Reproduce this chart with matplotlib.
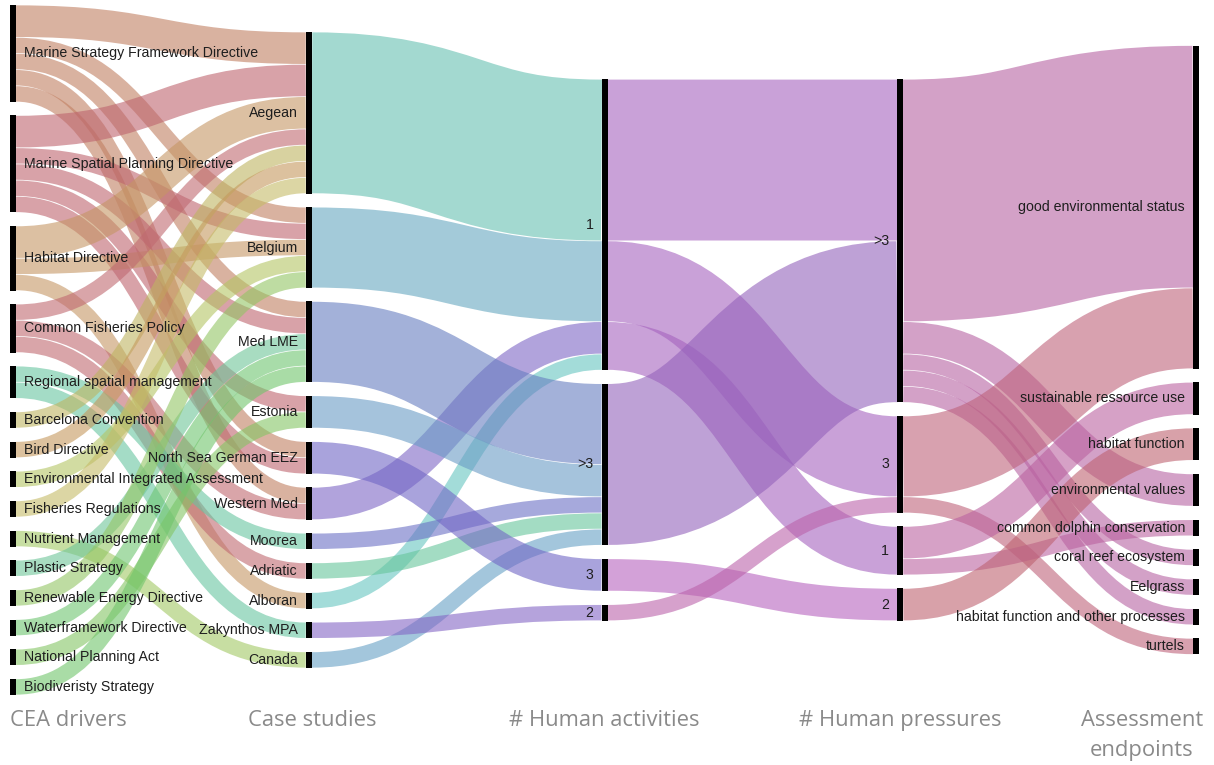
import matplotlib
matplotlib.use("Agg")
import matplotlib.pyplot as plt
from matplotlib.path import Path
from matplotlib.patches import PathPatch, Rectangle
import numpy as np

# ---------------- data ----------------
drivers = ["Marine Strategy Framework Directive", "Marine Spatial Planning Directive",
           "Habitat Directive", "Common Fisheries Policy", "Regional spatial management",
           "Barcelona Convention", "Bird Directive", "Environmental Integrated Assessment",
           "Fisheries Regulations", "Nutrient Management", "Plastic Strategy",
           "Renewable Energy Directive", "Waterframework Directive", "National Planning Act",
           "Biodiveristy Strategy"]
driver_colors = ["#dab2a0", "#d8a2a8", "#dcc0a2", "#d9a5aa", "#a4dcc6",
                 "#d8d2a0", "#dcc29e", "#d2dca2", "#dcd6a4", "#c8dea2",
                 "#a8dcc2", "#bedca2", "#a8dcaa", "#b6dca2", "#aadca6"]

case_studies = ["Aegean", "Belgium", "Med LME", "Estonia", "North Sea German EEZ",
                "Western Med", "Moorea", "Adriatic", "Alboran", "Zakynthos MPA", "Canada"]
case_colors = ["#a3d9d0", "#a3cbd9", "#a3b1d9", "#a5c3dc", "#aaa3dc",
               "#b1a3dc", "#a6aadc", "#a3dcc3", "#a3dcd9", "#b5a3dc", "#a3c6dc"]

activities = ["1", ">3", "3", "2"]
activity_colors = ["#c9a1d8", "#bfa1d6", "#d4a1d8", "#d6a1cc"]

pressures = [">3", "3", "1", "2"]
pressure_colors = ["#d4a1c8", "#d8a1b0", "#d6a1c6", "#d8a1aa"]

endpoints = ["good environmental status", "sustainable ressource use", "habitat function",
             "environmental values", "common dolphin conservation", "coral reef ecosystem",
             "Eelgrass", "habitat function and other processes", "turtels"]
endpoint_colors = ["#d4a1c8"] * len(endpoints)

links_driver_case = [
    ("Marine Strategy Framework Directive", "Aegean", 2),
    ("Marine Strategy Framework Directive", "Belgium", 1),
    ("Marine Strategy Framework Directive", "Med LME", 1),
    ("Marine Strategy Framework Directive", "North Sea German EEZ", 1),
    ("Marine Strategy Framework Directive", "Western Med", 1),
    ("Marine Spatial Planning Directive", "Aegean", 2),
    ("Marine Spatial Planning Directive", "Belgium", 1),
    ("Marine Spatial Planning Directive", "Med LME", 1),
    ("Marine Spatial Planning Directive", "Estonia", 1),
    ("Marine Spatial Planning Directive", "North Sea German EEZ", 1),
    ("Habitat Directive", "Aegean", 2),
    ("Habitat Directive", "Belgium", 1),
    ("Habitat Directive", "Alboran", 1),
    ("Common Fisheries Policy", "Aegean", 1),
    ("Common Fisheries Policy", "Western Med", 1),
    ("Common Fisheries Policy", "Adriatic", 1),
    ("Regional spatial management", "Moorea", 1),
    ("Regional spatial management", "Zakynthos MPA", 1),
    ("Barcelona Convention", "Aegean", 1),
    ("Bird Directive", "Aegean", 1),
    ("Environmental Integrated Assessment", "Belgium", 1),
    ("Fisheries Regulations", "Aegean", 1),
    ("Nutrient Management", "Canada", 1),
    ("Plastic Strategy", "Med LME", 1),
    ("Renewable Energy Directive", "Belgium", 1),
    ("Waterframework Directive", "Med LME", 1),
    ("National Planning Act", "Estonia", 1),
    ("Biodiveristy Strategy", "Med LME", 1),
]

links_case_activity = [
    ("Aegean", "1", 10), ("Belgium", "1", 5), ("Western Med", "1", 2), ("Alboran", "1", 1),
    ("Med LME", ">3", 5), ("Estonia", ">3", 2), ("Moorea", ">3", 1),
    ("Adriatic", ">3", 1), ("Canada", ">3", 1),
    ("North Sea German EEZ", "3", 2),
    ("Zakynthos MPA", "2", 1),
]

links_activity_pressure = [
    ("1", ">3", 10), ("1", "3", 5), ("1", "1", 3),
    (">3", ">3", 10),
    ("3", "2", 2),
    ("2", "3", 1),
]

links_pressure_endpoint = [
    (">3", "good environmental status", 15), (">3", "environmental values", 2),
    (">3", "coral reef ecosystem", 1), (">3", "Eelgrass", 1),
    (">3", "habitat function and other processes", 1),
    ("3", "good environmental status", 5), ("3", "turtels", 1),
    ("1", "sustainable ressource use", 2), ("1", "common dolphin conservation", 1),
    ("2", "habitat function", 2),
]

axis_titles = ["CEA drivers", "Case studies", "# Human activities", "# Human pressures",
               "Assessment\nendpoints"]

# ---------------- layout ----------------
W, H = 1214, 765
fig = plt.figure(figsize=(W / 100, H / 100), dpi=100)
ax = fig.add_axes([0, 0, 1, 1])
ax.set_xlim(0, W)
ax.set_ylim(H, 0)
ax.axis("off")

columns = [drivers, case_studies, activities, pressures, endpoints]
colors = [driver_colors, case_colors, activity_colors, pressure_colors, endpoint_colors]
col_links = [links_driver_case, links_case_activity, links_activity_pressure, links_pressure_endpoint]

node_w = 6
pad = 13.5
y_top, y_bot = 5, 695
col_x = np.linspace(10, 1193, len(columns))
alpha = 0.6
seam = 0.7  # thin white gap between adjacent bands

val_in = [dict.fromkeys(c, 0) for c in columns]
val_out = [dict.fromkeys(c, 0) for c in columns]
for c, links in enumerate(col_links):
    for s, t, v in links:
        val_out[c][s] += v
        val_in[c + 1][t] += v
node_val = [{n: max(val_in[c][n], val_out[c][n]) for n in col} for c, col in enumerate(columns)]

ky = min((y_bot - y_top - (len(col) - 1) * pad) / sum(node_val[c].values())
         for c, col in enumerate(columns))
center = (y_top + y_bot) / 2
node_y = []
for c, col in enumerate(columns):
    total = sum(node_val[c].values()) * ky + (len(col) - 1) * pad
    y = center - total / 2
    d = {}
    for n in col:
        h = node_val[c][n] * ky
        d[n] = (y, y + h)
        y += h + pad
    node_y.append(d)


def solid(hexc):
    rgb = np.array(matplotlib.colors.to_rgb(hexc))
    return tuple(np.clip(1 - (1 - rgb) / alpha, 0, 1))


# links
for c, links in enumerate(col_links):
    src_off = {n: node_y[c][n][0] for n in columns[c]}
    tgt_off = {n: node_y[c + 1][n][0] for n in columns[c + 1]}
    idx = list(range(len(links)))
    sy = {}
    ty = {}
    for i in sorted(idx, key=lambda i: (columns[c].index(links[i][0]), node_y[c + 1][links[i][1]][0])):
        s, t, v = links[i]
        sy[i] = src_off[s]
        src_off[s] += v * ky
    for i in sorted(idx, key=lambda i: (columns[c + 1].index(links[i][1]), node_y[c][links[i][0]][0])):
        s, t, v = links[i]
        ty[i] = tgt_off[t]
        tgt_off[t] += v * ky
    x0 = col_x[c] + node_w
    x1 = col_x[c + 1]
    xm = (x0 + x1) / 2
    for i in idx:
        s, t, v = links[i]
        w = v * ky
        ya = sy[i] + w / 2
        yb = ty[i] + w / 2
        path = Path([(x0, ya), (xm, ya), (xm, yb), (x1, yb)],
                    [Path.MOVETO, Path.CURVE4, Path.CURVE4, Path.CURVE4])
        col = solid(colors[c][columns[c].index(s)])
        ax.add_patch(PathPatch(path, facecolor="none", edgecolor=col, alpha=alpha,
                               lw=(w - seam) * 0.72, capstyle="butt", zorder=1))

# nodes and labels
label_font = ["Liberation Sans", "DejaVu Sans"]
for c, col in enumerate(columns):
    for n in col:
        y0, y1 = node_y[c][n]
        ax.add_patch(Rectangle((col_x[c], y0), node_w, y1 - y0, facecolor="black",
                               edgecolor="none", zorder=3))
        if c == 0:
            ax.text(col_x[c] + node_w + 8, (y0 + y1) / 2, n, ha="left", va="center",
                    fontsize=10.2, color="#1e1e1e", family=label_font, zorder=4)
        else:
            ax.text(col_x[c] - 8, (y0 + y1) / 2, n, ha="right", va="center",
                    fontsize=10.2, color="#1e1e1e", family=label_font, zorder=4)

# axis titles
title_font = ["Open Sans", "DejaVu Sans"]
tx = [col_x[0], col_x[1] - 58, col_x[2] + 3, col_x[3] + 3, col_x[4] - 51]
tha = ["left", "left", "center", "center", "center"]
for i, t in enumerate(axis_titles):
    ax.text(tx[i], 710, t, ha=tha[i], va="top", fontsize=15.8, color="#8a8a8a",
            family=title_font, linespacing=1.55)

fig.savefig("out.png", dpi=100)
